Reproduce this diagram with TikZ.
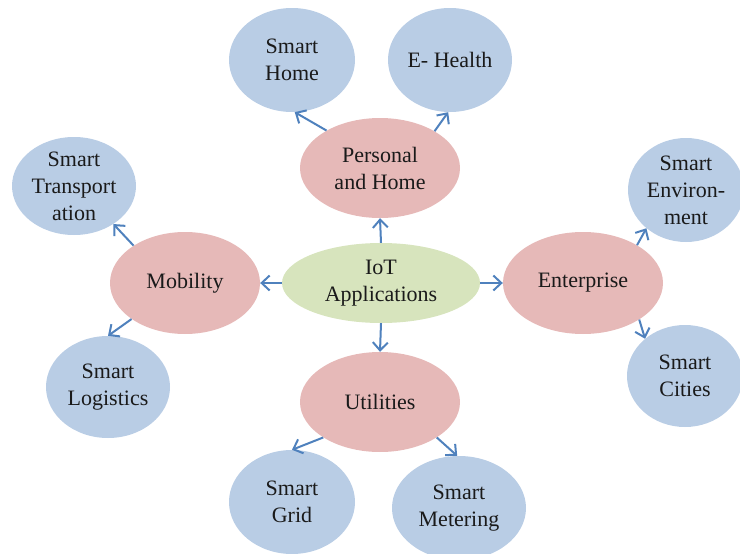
\documentclass[tikz,border=0pt]{standalone}
\usepackage{fontspec}
\setmainfont{Liberation Serif}
\usetikzlibrary{shapes.geometric,arrows.meta}
\definecolor{leafblue}{HTML}{B9CDE5}
\definecolor{midpink}{HTML}{E6B9B8}
\definecolor{coregreen}{HTML}{D7E4BD}
\definecolor{arrowblue}{HTML}{4F81BD}
\definecolor{txt}{HTML}{1A1A1A}
\tikzset{
  blob/.style={ellipse, inner sep=-6pt, align=center, text=txt,
    font=\fontsize{22}{27}\selectfont},
  leaf/.style={blob, fill=leafblue},
  mid/.style={blob, fill=midpink},
  core/.style={blob, fill=coregreen},
  link/.style={draw=arrowblue, line width=2pt, -{Straight Barb[length=8pt,width=15pt]}}
}
\begin{document}
\begin{tikzpicture}[x=1pt,y=-1pt]
\useasboundingbox (0,0) rectangle (740,554);
\node[core, minimum width=198pt, minimum height=80pt] (iot) at (381,283) {IoT\\Applications};
\node[mid, minimum width=160pt, minimum height=100pt] (ph) at (380,168) {Personal\\and Home};
\node[mid, minimum width=150pt, minimum height=102pt] (mob) at (185,283) {Mobility};
\node[mid, minimum width=160pt, minimum height=102pt] (ent) at (583,283) {Enterprise};
\node[mid, minimum width=160pt, minimum height=100pt] (util) at (380,402) {Utilities};
\node[leaf, minimum width=126pt, minimum height=104pt] (sh) at (292,60) {Smart\\Home};
\node[leaf, minimum width=124pt, minimum height=104pt] (eh) at (450,60) {E- Health};
\node[leaf, minimum width=124pt, minimum height=98pt] (st) at (74,186) {Smart\\Transport\\ation};
\node[leaf, minimum width=124pt, minimum height=102pt] (sl) at (108,387) {Smart\\Logistics};
\node[leaf, minimum width=116pt, minimum height=104pt] (se) at (686,190) {Smart\\Environ-\\ment};
\node[leaf, minimum width=116pt, minimum height=102pt] (sc) at (685,376) {Smart\\Cities};
\node[leaf, minimum width=126pt, minimum height=104pt] (sg) at (292,502) {Smart\\Grid};
\node[leaf, minimum width=134pt, minimum height=104pt] (sm) at (459,508) {Smart\\Metering};
\draw[link] (iot.90) -- (ph.-90);
\draw[link] (iot.180) -- (mob.0);
\draw[link] (iot.0) -- (ent.180);
\draw[link] (iot.-90) -- (util.90);
\draw[link] (ph.145) -- (sh.-87);
\draw[link] (ph.34) -- (eh.-92);
\draw[link] (mob.144) -- (st.-44);
\draw[link] (mob.-146) -- (sl.90);
\draw[link] (ent.35) -- (se.-136);
\draw[link] (ent.-33) -- (sc.137);
\draw[link] (util.-148) -- (sg.90);
\draw[link] (util.-32) -- (sm.92);
\end{tikzpicture}
\end{document}
